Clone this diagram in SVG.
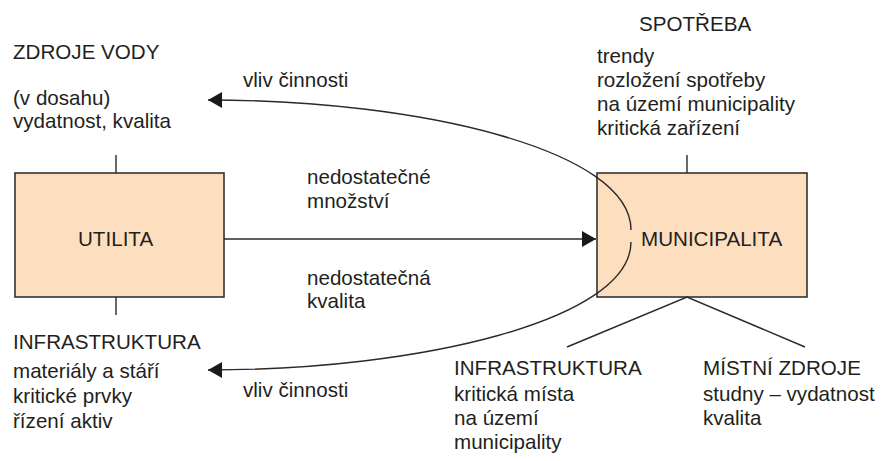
<svg xmlns="http://www.w3.org/2000/svg" width="883" height="461" viewBox="0 0 883 461">
<defs>
<style>
.t{font-family:"Liberation Sans",Arial,sans-serif;font-size:20.6px;fill:#231f20}
.box{fill:#fddfc0;stroke:#333;stroke-width:1.6}
.ln{fill:none;stroke:#2a2a2a;stroke-width:1.4}
</style>
<marker id="ah" markerUnits="userSpaceOnUse" markerWidth="16" markerHeight="17" refX="14" refY="8" orient="auto">
<path d="M0,0 L14,8 L0,16 z" fill="#1a1a1a"/>
</marker>
</defs>
<rect width="883" height="461" fill="#fff"/>
<g id="utilita">
<rect class="box" x="15" y="173" width="209" height="124"/>
<text class="t" x="78" y="246">UTILITA</text>
</g>
<g id="municipalita">
<rect class="box" x="597" y="173" width="210" height="124"/>
<text class="t" x="641" y="246">MUNICIPALITA</text>
</g>
<g id="zdroje-vody">
<text class="t" x="13" y="59">ZDROJE VODY</text>
<text class="t" x="13" y="105">(v dosahu)</text>
<text class="t" x="13" y="128">vydatnost, kvalita</text>
</g>
<g id="infrastruktura-utilita">
<text class="t" x="13" y="349">INFRASTRUKTURA</text>
<text class="t" x="13" y="378">materiály a stáří</text>
<text class="t" x="13" y="403">kritické prvky</text>
<text class="t" x="13" y="428">řízení aktiv</text>
</g>
<g id="spotreba">
<text class="t" x="639" y="31">SPOTŘEBA</text>
<text class="t" x="597" y="63">trendy</text>
<text class="t" x="597" y="87">rozložení spotřeby</text>
<text class="t" x="597" y="111">na území municipality</text>
<text class="t" x="597" y="135">kritická zařízení</text>
</g>
<g id="infrastruktura-municipalita">
<text class="t" x="454" y="375">INFRASTRUKTURA</text>
<text class="t" x="454" y="401">kritická místa</text>
<text class="t" x="454" y="425">na území</text>
<text class="t" x="454" y="449">municipality</text>
</g>
<g id="mistni-zdroje">
<text class="t" x="703" y="375">MÍSTNÍ ZDROJE</text>
<text class="t" x="703" y="401">studny – vydatnost</text>
<text class="t" x="703" y="425">kvalita</text>
</g>
<g id="connectors">
<line class="ln" x1="116" y1="155" x2="116" y2="173"/>
<line class="ln" x1="116" y1="297" x2="116" y2="315"/>
<line class="ln" x1="687" y1="155" x2="687" y2="173"/>
<polyline class="ln" points="567,347 687,297 805,347"/>
<line class="ln" x1="224" y1="239" x2="596" y2="239" marker-end="url(#ah)"/>
<path class="ln" d="M631,230 C631,150 420,100 208,100" marker-end="url(#ah)"/>
<path class="ln" d="M631,242 C631,320 420,370 208,370" marker-end="url(#ah)"/>
<text class="t" x="243" y="87">vliv činnosti</text>
<text class="t" x="243" y="397">vliv činnosti</text>
<text class="t" x="307" y="184">nedostatečné</text>
<text class="t" x="307" y="208">množství</text>
<text class="t" x="307" y="285">nedostatečná</text>
<text class="t" x="307" y="308">kvalita</text>
</g>
</svg>
